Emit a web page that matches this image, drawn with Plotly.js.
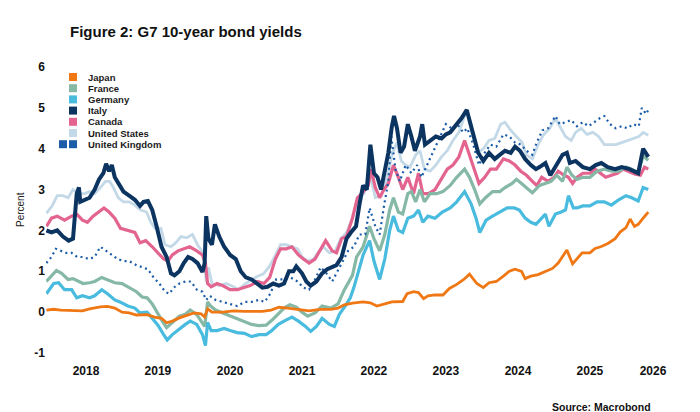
<!DOCTYPE html>
<html><head><meta charset="utf-8">
<script src="https://cdn.plot.ly/plotly-3.0.1.min.js"></script>
<style>html,body{margin:0;padding:0;background:#fff}#chart{width:700px;height:412px}</style>
</head><body><div id="chart"></div>
<script>
// ---------- DATA (time in decimal years) ----------
const seriesNames = ['Japan','France','Germany','Italy','Canada','United States','United Kingdom'];
const seriesColors = ['#f07814','#86b8a6','#48bbde','#0c3461','#e3648e','#c4d9e7','#1b5da8'];
const yearLabels = ['2018','2019','2020','2021','2022','2023','2024','2025','2026'];
const yearLabelDates = ['2018-07-02','2019-07-02','2020-07-02','2021-07-02','2022-07-02','2023-07-02','2024-07-02','2025-07-02','2026-05-18'];
const yTickVals = [-1,0,1,2,3,4,5,6];
const yTickText = ['-1','0','1','2','3','4','5','6'];

const japanT = [2017.95,2018.05,2018.15,2018.3,2018.45,2018.55,2018.7,2018.8,2018.9,2019.0,2019.1,2019.2,2019.35,2019.45,2019.55,2019.62,2019.7,2019.8,2019.9,2020.0,2020.1,2020.15,2020.19,2020.25,2020.4,2020.55,2020.7,2020.85,2020.95,2021.07,2021.18,2021.3,2021.45,2021.6,2021.75,2021.9,2022.0,2022.09,2022.2,2022.35,2022.45,2022.54,2022.65,2022.75,2022.9,2022.96,2023.05,2023.12,2023.19,2023.25,2023.35,2023.46,2023.55,2023.65,2023.75,2023.83,2023.93,2024.02,2024.1,2024.2,2024.3,2024.38,2024.46,2024.55,2024.6,2024.68,2024.78,2024.88,2024.98,2025.06,2025.18,2025.26,2025.32,2025.39,2025.5,2025.57,2025.65,2025.75,2025.85,2025.92,2026.0,2026.06,2026.12,2026.17,2026.24,2026.31];
const japanV = [0.05,0.07,0.05,0.04,0.03,0.08,0.13,0.14,0.1,0.0,-0.02,-0.07,-0.06,-0.12,-0.15,-0.26,-0.22,-0.14,-0.08,-0.02,-0.04,-0.12,0.08,0.0,0.0,0.03,0.02,0.03,0.02,0.05,0.12,0.1,0.06,0.03,0.07,0.07,0.1,0.18,0.22,0.25,0.23,0.15,0.2,0.25,0.26,0.45,0.5,0.48,0.33,0.4,0.42,0.42,0.58,0.68,0.8,0.93,0.7,0.6,0.72,0.75,0.88,1.0,1.05,1.0,0.82,0.88,0.92,1.0,1.07,1.2,1.52,1.18,1.3,1.45,1.45,1.56,1.6,1.68,1.8,1.96,2.07,2.28,2.1,2.15,2.3,2.45];

const franceT = [2017.95,2018.02,2018.09,2018.16,2018.25,2018.32,2018.4,2018.46,2018.55,2018.62,2018.72,2018.8,2018.9,2019.0,2019.11,2019.2,2019.28,2019.35,2019.42,2019.5,2019.56,2019.62,2019.7,2019.8,2019.88,2019.95,2020.04,2020.12,2020.15,2020.19,2020.23,2020.3,2020.4,2020.5,2020.6,2020.7,2020.8,2020.9,2021.0,2021.08,2021.17,2021.25,2021.33,2021.42,2021.5,2021.58,2021.68,2021.78,2021.9,2022.0,2022.09,2022.15,2022.2,2022.26,2022.35,2022.44,2022.5,2022.58,2022.65,2022.72,2022.77,2022.84,2022.9,2022.97,2023.02,2023.08,2023.14,2023.2,2023.28,2023.37,2023.46,2023.56,2023.65,2023.76,2023.83,2023.9,2023.97,2024.05,2024.15,2024.25,2024.32,2024.42,2024.48,2024.55,2024.62,2024.7,2024.8,2024.88,2024.96,2025.04,2025.12,2025.18,2025.25,2025.32,2025.4,2025.5,2025.6,2025.7,2025.8,2025.9,2026.0,2026.08,2026.17,2026.24,2026.31];
const franceV = [0.75,0.9,1.02,0.95,0.8,0.82,0.75,0.7,0.72,0.75,0.85,0.8,0.72,0.7,0.6,0.5,0.37,0.35,0.2,-0.05,-0.22,-0.38,-0.25,-0.1,-0.05,0.05,-0.06,-0.25,-0.35,0.25,0.15,0.05,-0.02,-0.1,-0.15,-0.22,-0.3,-0.33,-0.32,-0.2,-0.05,0.1,0.18,0.12,0.0,-0.1,-0.02,0.15,0.1,0.2,0.55,0.75,0.9,1.35,1.6,2.1,1.8,1.5,1.9,2.5,2.8,2.45,2.4,2.9,2.95,2.7,3.0,2.7,2.9,2.9,2.95,3.1,3.3,3.5,3.3,3.0,2.65,2.8,2.95,2.95,3.05,3.15,3.25,3.15,3.05,2.92,3.1,3.15,3.2,3.35,3.2,3.55,3.35,3.25,3.3,3.3,3.45,3.5,3.45,3.45,3.55,3.5,3.42,3.82,3.72];

const germanyT = [2017.95,2018.05,2018.12,2018.2,2018.3,2018.37,2018.45,2018.55,2018.62,2018.72,2018.8,2018.9,2018.97,2019.08,2019.18,2019.25,2019.35,2019.42,2019.5,2019.58,2019.63,2019.7,2019.8,2019.88,2019.95,2020.04,2020.12,2020.16,2020.19,2020.24,2020.32,2020.42,2020.5,2020.6,2020.7,2020.8,2020.9,2021.0,2021.08,2021.17,2021.27,2021.36,2021.45,2021.55,2021.62,2021.7,2021.78,2021.88,2021.95,2022.02,2022.1,2022.17,2022.22,2022.28,2022.35,2022.44,2022.5,2022.58,2022.65,2022.72,2022.77,2022.84,2022.9,2022.97,2023.05,2023.12,2023.18,2023.25,2023.35,2023.45,2023.56,2023.65,2023.76,2023.85,2023.92,2023.97,2024.06,2024.15,2024.25,2024.35,2024.45,2024.52,2024.6,2024.68,2024.75,2024.82,2024.88,2024.93,2025.02,2025.1,2025.16,2025.2,2025.27,2025.32,2025.4,2025.5,2025.6,2025.7,2025.8,2025.9,2026.0,2026.08,2026.17,2026.24,2026.31];
const germanyV = [0.45,0.7,0.72,0.55,0.55,0.35,0.4,0.35,0.4,0.55,0.45,0.3,0.25,0.15,0.1,-0.02,0.0,-0.15,-0.32,-0.55,-0.68,-0.55,-0.4,-0.3,-0.22,-0.3,-0.55,-0.82,-0.25,-0.45,-0.45,-0.4,-0.45,-0.5,-0.52,-0.6,-0.55,-0.55,-0.45,-0.3,-0.2,-0.12,-0.22,-0.35,-0.47,-0.35,-0.15,-0.3,-0.35,-0.05,0.15,0.35,0.6,0.95,1.4,1.75,1.25,0.8,1.3,2.0,2.35,2.0,1.95,2.3,2.35,2.5,2.2,2.35,2.3,2.45,2.55,2.7,2.95,2.65,2.3,1.95,2.25,2.35,2.45,2.55,2.55,2.5,2.3,2.2,2.15,2.3,2.4,2.1,2.4,2.45,2.5,2.85,2.55,2.55,2.6,2.6,2.7,2.7,2.62,2.75,2.85,2.8,2.72,3.05,3.0];

const italyT = [2017.95,2018.02,2018.1,2018.18,2018.26,2018.32,2018.37,2018.4,2018.42,2018.48,2018.55,2018.62,2018.68,2018.74,2018.78,2018.82,2018.86,2018.9,2018.96,2019.02,2019.1,2019.18,2019.25,2019.3,2019.36,2019.42,2019.48,2019.55,2019.62,2019.68,2019.73,2019.8,2019.86,2019.92,2019.98,2020.05,2020.12,2020.15,2020.17,2020.2,2020.25,2020.29,2020.35,2020.42,2020.5,2020.58,2020.65,2020.72,2020.8,2020.88,2020.95,2021.02,2021.1,2021.18,2021.25,2021.32,2021.38,2021.42,2021.5,2021.56,2021.62,2021.7,2021.78,2021.85,2021.92,2021.98,2022.05,2022.12,2022.18,2022.25,2022.3,2022.35,2022.4,2022.45,2022.5,2022.55,2022.6,2022.66,2022.7,2022.75,2022.78,2022.82,2022.87,2022.92,2022.97,2023.02,2023.07,2023.14,2023.17,2023.21,2023.28,2023.36,2023.44,2023.5,2023.56,2023.65,2023.72,2023.79,2023.83,2023.88,2023.95,2024.02,2024.1,2024.18,2024.26,2024.32,2024.4,2024.46,2024.53,2024.6,2024.68,2024.75,2024.8,2024.88,2024.95,2025.04,2025.12,2025.18,2025.22,2025.3,2025.4,2025.5,2025.58,2025.66,2025.75,2025.85,2025.94,2026.05,2026.12,2026.17,2026.24,2026.31];
const italyV = [2.0,1.95,2.0,1.85,1.75,1.8,2.9,3.05,2.7,2.75,2.8,3.0,3.25,3.4,3.63,3.45,3.6,3.3,3.1,2.95,2.85,2.75,2.6,2.7,2.72,2.5,2.1,1.6,1.35,0.95,0.9,1.0,1.2,1.35,1.3,1.2,0.98,1.2,2.35,1.8,1.65,2.15,1.85,1.6,1.4,1.3,1.0,0.85,0.8,0.68,0.6,0.62,0.7,0.65,0.7,1.0,1.0,1.12,0.95,0.75,0.65,0.75,0.95,1.05,1.1,1.15,1.35,1.8,1.95,2.1,2.65,3.1,3.0,4.1,3.4,3.3,3.0,3.6,3.9,4.55,4.8,4.5,3.9,4.05,4.6,4.3,3.95,4.3,4.6,4.1,4.2,4.3,4.25,4.35,4.4,4.6,4.75,4.95,4.7,4.4,3.9,3.7,3.9,3.75,3.85,3.95,3.9,4.05,3.95,3.75,3.6,3.5,3.55,3.65,3.35,3.6,3.85,3.9,3.65,3.7,3.55,3.5,3.6,3.65,3.55,3.5,3.55,3.5,3.45,3.4,4.0,3.8];

const canadaT = [2017.95,2018.02,2018.1,2018.2,2018.3,2018.37,2018.45,2018.52,2018.6,2018.68,2018.75,2018.82,2018.9,2018.98,2019.08,2019.18,2019.25,2019.33,2019.42,2019.5,2019.58,2019.64,2019.7,2019.78,2019.85,2019.94,2020.04,2020.12,2020.16,2020.19,2020.24,2020.32,2020.4,2020.5,2020.6,2020.68,2020.78,2020.88,2020.97,2021.05,2021.13,2021.2,2021.28,2021.36,2021.45,2021.52,2021.6,2021.68,2021.76,2021.83,2021.92,2021.98,2022.05,2022.12,2022.2,2022.27,2022.33,2022.42,2022.46,2022.52,2022.58,2022.64,2022.7,2022.77,2022.84,2022.9,2022.97,2023.05,2023.12,2023.18,2023.26,2023.35,2023.45,2023.52,2023.6,2023.68,2023.76,2023.82,2023.88,2023.96,2024.04,2024.12,2024.2,2024.3,2024.38,2024.46,2024.54,2024.62,2024.7,2024.76,2024.83,2024.92,2025.0,2025.06,2025.14,2025.2,2025.26,2025.32,2025.4,2025.5,2025.57,2025.64,2025.72,2025.8,2025.88,2025.96,2026.04,2026.12,2026.2,2026.26,2026.31];
const canadaV = [2.1,2.3,2.35,2.25,2.35,2.4,2.25,2.2,2.35,2.45,2.55,2.45,2.3,2.05,2.0,1.95,1.7,1.75,1.6,1.45,1.3,1.25,1.4,1.5,1.55,1.6,1.5,1.4,1.2,0.7,0.62,0.7,0.65,0.55,0.55,0.6,0.65,0.75,0.7,0.85,1.3,1.55,1.55,1.6,1.4,1.3,1.2,1.3,1.55,1.75,1.5,1.45,1.8,1.85,2.3,2.8,2.9,3.1,3.5,3.05,2.8,3.0,3.15,3.6,3.3,3.0,3.3,2.9,3.4,2.9,2.9,3.0,3.3,3.5,3.6,3.8,4.2,3.9,3.6,3.15,3.3,3.5,3.5,3.75,3.7,3.6,3.45,3.35,3.2,3.1,3.3,3.2,3.3,3.45,3.35,3.3,3.15,3.3,3.4,3.4,3.5,3.4,3.3,3.35,3.4,3.5,3.45,3.38,3.35,3.55,3.5];

const usT = [2017.95,2018.03,2018.1,2018.18,2018.25,2018.32,2018.4,2018.48,2018.55,2018.62,2018.7,2018.77,2018.83,2018.88,2018.95,2019.02,2019.1,2019.18,2019.26,2019.34,2019.4,2019.46,2019.54,2019.6,2019.68,2019.75,2019.82,2019.9,2019.98,2020.05,2020.13,2020.17,2020.2,2020.25,2020.35,2020.45,2020.55,2020.62,2020.7,2020.8,2020.88,2020.96,2021.04,2021.12,2021.2,2021.28,2021.36,2021.44,2021.5,2021.58,2021.66,2021.74,2021.8,2021.88,2021.96,2022.04,2022.12,2022.2,2022.28,2022.36,2022.44,2022.52,2022.6,2022.68,2022.76,2022.82,2022.88,2022.94,2023.0,2023.08,2023.14,2023.2,2023.28,2023.36,2023.44,2023.52,2023.6,2023.68,2023.76,2023.8,2023.86,2023.94,2024.02,2024.1,2024.18,2024.26,2024.32,2024.4,2024.48,2024.56,2024.62,2024.7,2024.78,2024.86,2024.94,2025.02,2025.08,2025.16,2025.24,2025.3,2025.38,2025.46,2025.54,2025.62,2025.7,2025.78,2025.86,2025.94,2026.02,2026.1,2026.18,2026.24,2026.31];
const usV = [2.42,2.6,2.85,2.85,2.8,3.0,2.9,2.9,2.95,2.9,3.05,3.2,3.2,3.05,2.8,2.7,2.7,2.62,2.5,2.45,2.2,2.05,2.05,1.65,1.6,1.7,1.85,1.82,1.9,1.65,1.45,0.75,1.1,0.7,0.65,0.7,0.62,0.55,0.68,0.8,0.88,0.93,1.1,1.35,1.65,1.65,1.6,1.55,1.35,1.25,1.3,1.5,1.6,1.45,1.5,1.8,1.95,2.3,2.8,2.9,3.4,2.8,2.85,3.3,3.9,4.15,3.7,3.6,3.55,3.85,3.95,3.5,3.45,3.6,3.8,3.95,4.2,4.4,4.8,4.9,4.4,3.9,4.0,4.2,4.25,4.6,4.65,4.45,4.3,4.15,3.85,3.75,4.1,4.35,4.5,4.75,4.55,4.3,4.2,4.4,4.5,4.35,4.4,4.3,4.1,4.1,4.1,4.15,4.2,4.25,4.3,4.4,4.33];

const ukT = [2017.95,2018.02,2018.08,2018.15,2018.22,2018.3,2018.38,2018.46,2018.54,2018.62,2018.7,2018.78,2018.86,2018.94,2019.02,2019.1,2019.2,2019.28,2019.36,2019.44,2019.52,2019.6,2019.66,2019.72,2019.8,2019.88,2019.96,2020.04,2020.12,2020.17,2020.22,2020.3,2020.4,2020.5,2020.6,2020.7,2020.8,2020.9,2020.98,2021.06,2021.14,2021.24,2021.34,2021.44,2021.52,2021.6,2021.68,2021.76,2021.84,2021.92,2021.98,2022.06,2022.14,2022.22,2022.3,2022.38,2022.44,2022.52,2022.58,2022.64,2022.7,2022.74,2022.8,2022.86,2022.94,2023.02,2023.1,2023.16,2023.24,2023.34,2023.42,2023.5,2023.58,2023.66,2023.74,2023.8,2023.88,2023.96,2024.04,2024.12,2024.2,2024.3,2024.38,2024.46,2024.54,2024.62,2024.7,2024.76,2024.84,2024.92,2025.02,2025.08,2025.16,2025.24,2025.32,2025.4,2025.48,2025.56,2025.64,2025.7,2025.78,2025.86,2025.94,2026.02,2026.1,2026.18,2026.22,2026.28,2026.31];
const ukV = [1.2,1.35,1.55,1.5,1.45,1.45,1.35,1.35,1.3,1.35,1.6,1.5,1.4,1.3,1.25,1.25,1.15,1.1,1.05,0.85,0.7,0.5,0.45,0.6,0.7,0.75,0.75,0.55,0.5,0.3,0.4,0.3,0.25,0.2,0.15,0.25,0.25,0.3,0.25,0.45,0.8,0.8,0.85,0.75,0.6,0.55,0.8,1.1,0.95,0.75,0.95,1.25,1.5,1.6,1.9,1.9,2.55,2.1,1.9,2.6,3.2,4.3,3.5,3.2,3.6,3.4,3.6,3.3,3.6,4.0,4.3,4.6,4.5,4.6,4.4,4.5,4.1,3.6,3.9,4.1,4.05,4.35,4.3,4.15,4.1,3.95,3.85,4.15,4.45,4.5,4.8,4.6,4.65,4.7,4.55,4.65,4.55,4.65,4.75,4.8,4.6,4.5,4.55,4.5,4.6,4.55,5.0,4.85,4.95];

// ---------- helpers ----------
function decYearToDate(t) {
  const y = Math.floor(t);
  const a = Date.UTC(y, 0, 1), b = Date.UTC(y + 1, 0, 1);
  return new Date(a + (t - y) * (b - a)).toISOString().slice(0, 10);
}
const seriesT = [japanT, franceT, germanyT, italyT, canadaT, usT, ukT];
const seriesV = [japanV, franceV, germanyV, italyV, canadaV, usV, ukV];
const lineWidths = [2.8, 3.2, 3.2, 4, 3.2, 2.8, 2.2];
const drawOrder = [5, 4, 1, 2, 6, 3, 0];

const W = 700, H = 412, ML = 46, MR = 20, MT = 67, MB = 59;
const PW = W - ML - MR, PH = H - MT - MB;
const fx = p => (p - ML) / PW;
const fy = p => (H - MB - p) / PH;
const FONT = 'Liberation Sans, Arial, Helvetica, sans-serif';

const traces = drawOrder.map(i => ({
  type: 'scatter', mode: 'lines', name: seriesNames[i],
  x: seriesT[i].map(decYearToDate), y: seriesV[i],
  line: i === 6
    ? {color: seriesColors[i], width: lineWidths[i], dash: '2px,3.5px'}
    : {color: seriesColors[i], width: lineWidths[i]},
  showlegend: false, hoverinfo: 'skip'
}));

// legend built from names/colors
const shapes = [], annotations = [];
seriesNames.forEach((n, i) => {
  const cy = 77 + i * 11.2;
  shapes.push({type: 'rect', xref: 'paper', yref: 'paper', layer: 'above',
    x0: fx(69), x1: fx(77), y0: fy(cy + 4), y1: fy(cy - 4),
    fillcolor: seriesColors[i], line: {width: 0}});
  if (i === 6) shapes.push({type: 'rect', xref: 'paper', yref: 'paper', layer: 'above',
    x0: fx(59), x1: fx(67), y0: fy(cy + 4), y1: fy(cy - 4),
    fillcolor: seriesColors[i], line: {width: 0}});
  annotations.push({xref: 'paper', yref: 'paper', x: fx(86), y: fy(cy), xanchor: 'left', yanchor: 'middle',
    text: n, showarrow: false, font: {family: FONT, size: 9.5, weight: 700, color: '#1a1a1a'}});
});
annotations.push({xref: 'paper', yref: 'paper', x: fx(20), y: fy(210), textangle: -90,
  xanchor: 'center', yanchor: 'middle', text: 'Percent', showarrow: false,
  font: {family: FONT, size: 10, color: '#222'}});
annotations.push({xref: 'paper', yref: 'paper', x: fx(653), y: fy(407), xanchor: 'right', yanchor: 'middle',
  text: 'Source: Macrobond', showarrow: false, font: {family: FONT, size: 10.5, weight: 700, color: '#111'}});

const layout = {
  width: W, height: H,
  margin: {l: ML, r: MR, t: MT, b: MB, pad: 0},
  paper_bgcolor: '#fff', plot_bgcolor: '#fff',
  font: {family: FONT, color: '#111'},
  title: {text: 'Figure 2: G7 10-year bond yields', xref: 'container', yref: 'container',
    x: 70 / W, xanchor: 'left', y: 1 - 32 / H, yanchor: 'middle',
    font: {family: FONT, size: 15, weight: 700, color: '#111'}},
  xaxis: {type: 'date', range: ['2017-12-11', '2026-10-02'],
    tickmode: 'array', tickvals: yearLabelDates, ticktext: yearLabels,
    ticks: 'outside', ticklen: 7, tickcolor: 'rgba(0,0,0,0)',
    showgrid: false, zeroline: false, showline: false,
    tickfont: {family: FONT, size: 12, weight: 700, color: '#111'}},
  yaxis: {range: [-1, 6], tickmode: 'array', tickvals: yTickVals, ticktext: yTickText,
    ticks: '', showgrid: false, zeroline: false, showline: false,
    tickfont: {family: FONT, size: 12, weight: 700, color: '#111'}},
  shapes: shapes, annotations: annotations, showlegend: false
};

Plotly.newPlot('chart', traces, layout, {displayModeBar: false, staticPlot: true});
</script>
</body></html>
